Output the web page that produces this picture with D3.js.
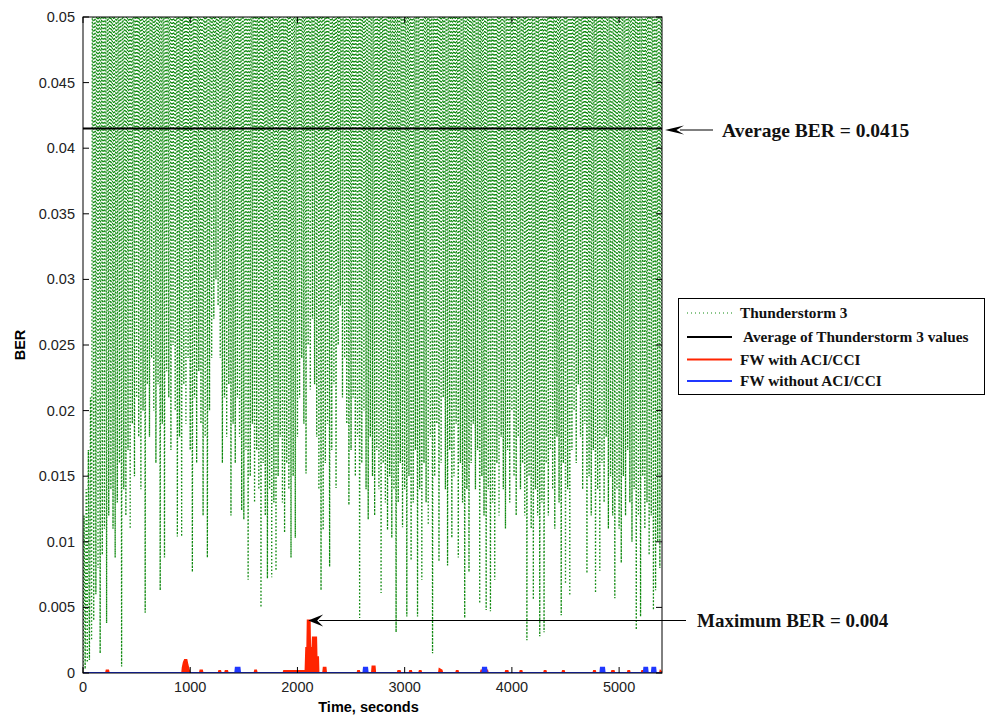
<!DOCTYPE html>
<html>
<head>
<meta charset="utf-8">
<script src="https://cdn.jsdelivr.net/npm/d3@7"></script>
<style>
  body { margin: 0; background: #fff; }
  svg { display: block; }
  .tick-label { font-family: "Liberation Sans", Arial, sans-serif; font-size: 14.5px; fill: #222; }
  .axis-title { font-family: "Liberation Sans", Arial, sans-serif; font-size: 14.5px; font-weight: bold; fill: #000; }
  .serif { font-family: "Liberation Serif", "Times New Roman", serif; font-weight: bold; fill: #111; }
</style>
</head>
<body>
<div id="chart"></div>
<script>
// frame
let FRAME_WIDTH = 987;
let FRAME_HEIGHT = 719;
let MARGINS = {left: 83, right: 325, top: 17, bottom: 46};
let PLOT_WIDTH = FRAME_WIDTH - MARGINS.left - MARGINS.right;
let PLOT_HEIGHT = FRAME_HEIGHT - MARGINS.top - MARGINS.bottom;

// tick values
const X_TICKS = [0, 1000, 2000, 3000, 4000, 5000];
const Y_TICKS = [0, 0.005, 0.01, 0.015, 0.02, 0.025, 0.03, 0.035, 0.04, 0.045, 0.05];

// Thunderstorm 3: one trough every 20 s, read from the lower edge of the green trace
const STORM_STEP = 20;
const stormTroughs = [
  0, 0.0003, 0.0008, 0.001, 0.0025, 0.004, 0.006, 0.008, 0.0015, 0.009,
  0.011, 0.0038, 0.012, 0.014, 0.011, 0.0088, 0.013, 0.016, 0.0005, 0.014,
  0.012, 0.017, 0.011, 0.019, 0.015, 0.021, 0.018, 0.014, 0.02, 0.0046,
  0.022, 0.018, 0.024, 0.02, 0.016, 0.022, 0.0063, 0.019, 0.0088, 0.023,
  0.021, 0.017, 0.025, 0.02, 0.0104, 0.018, 0.0104, 0.022, 0.019, 0.024,
  0.017, 0.0077, 0.021, 0.016, 0.023, 0.019, 0.012, 0.018, 0.0088, 0.02,
  0.024, 0.027, 0.03, 0.028, 0.024, 0.016, 0.021, 0.018, 0.022, 0.012,
  0.019, 0.016, 0.021, 0.018, 0.0124, 0.0117, 0.017, 0.0071, 0.015, 0.019,
  0.013, 0.017, 0.014, 0.005, 0.016, 0.012, 0.0072, 0.014, 0.0073, 0.013,
  0.0078, 0.015, 0.018, 0.013, 0.0107, 0.016, 0.014, 0.0088, 0.015, 0.0103,
  0.018, 0.021, 0.024, 0.019, 0.0152, 0.025, 0.0216, 0.027, 0.022, 0.018,
  0.014, 0.0063, 0.0109, 0.016, 0.019, 0.0081, 0.017, 0.022, 0.0141, 0.025,
  0.028, 0.021, 0.024, 0.019, 0.0128, 0.017, 0.021, 0.015, 0.018, 0.0042,
  0.016, 0.02, 0.014, 0.0117, 0.018, 0.015, 0.012, 0.017, 0.014, 0.0061,
  0.016, 0.013, 0.0109, 0.015, 0.0103, 0.014, 0.0031, 0.013, 0.016, 0.0111,
  0.014, 0.0043, 0.015, 0.0086, 0.013, 0.017, 0.0043, 0.014, 0.0071, 0.016,
  0.013, 0.0113, 0.018, 0.0015, 0.015, 0.019, 0.0085, 0.016, 0.021, 0.014,
  0.0082, 0.017, 0.0103, 0.015, 0.019, 0.0088, 0.016, 0.013, 0.0042, 0.014,
  0.0077, 0.016, 0.019, 0.014, 0.017, 0.0053, 0.015, 0.012, 0.0048, 0.014,
  0.0047, 0.013, 0.0071, 0.016, 0.012, 0.018, 0.014, 0.011, 0.017, 0.013,
  0.02, 0.015, 0.012, 0.018, 0.014, 0.016, 0.012, 0.0025, 0.015, 0.011,
  0.0056, 0.014, 0.012, 0.0028, 0.013, 0.0031, 0.016, 0.012, 0.017, 0.014,
  0.011, 0.018, 0.013, 0.0044, 0.016, 0.0068, 0.014, 0.0059, 0.017, 0.02,
  0.016, 0.022, 0.018, 0.014, 0.019, 0.0076, 0.015, 0.012, 0.017, 0.0061,
  0.014, 0.0078, 0.016, 0.013, 0.018, 0.011, 0.015, 0.012, 0.0057, 0.014,
  0.011, 0.0084, 0.015, 0.012, 0.017, 0.013, 0.01, 0.014, 0.0033, 0.012,
  0.0043, 0.015, 0.011, 0.013, 0.009, 0.012, 0.0048, 0.0063, 0.01, 0.008,
  0.011
];
// peaks between troughs: the first few are low, the rest run off the top of the axes
const stormStartPeaks = [0.012, 0.014, 0.017, 0.021];
const STORM_PEAK = 0.075;

const AVERAGE_BER = 0.0415;

// FW with ACI/CCI
const fwAciTime = [0, 215, 220, 235, 240, 925, 930, 940, 950, 965, 975, 985, 995,
  1090, 1095, 1110, 1115, 1265, 1270, 1280, 1285, 1325, 1330, 1345, 1350, 1600, 1605, 1615, 1620,
  1870, 1875, 2065, 2075, 2082, 2092, 2096, 2114, 2118, 2140, 2144, 2174, 2178, 2192, 2196,
  2240, 2245, 2262, 2267, 2560, 2565, 2575, 2580, 2695, 2700, 2720, 2725,
  2935, 2940, 2955, 2960, 3045, 3050, 3060, 3065, 3135, 3140, 3150, 3155, 3320, 3325, 3345, 3350,
  3480, 3485, 3495, 3500, 3710, 3715, 3770, 3775, 3940, 3945, 3960, 3965, 4075, 4080, 4090, 4095,
  4300, 4305, 4315, 4320, 4470, 4475, 4485, 4490, 4760, 4765, 4775, 4780, 4930, 4935, 4950, 4955,
  5080, 5085, 5095, 5100, 5210, 5215, 5225, 5230, 5380, 5385, 5400];
const fwAciBER = [0, 0, 0.0002, 0.0002, 0, 0, 0.0004, 0.0008, 0.001, 0.001, 0.0006, 0.0003, 0,
  0, 0.0002, 0.0002, 0, 0, 0.00015, 0.00015, 0, 0, 0.00015, 0.00015, 0, 0, 0.0002, 0.0002, 0,
  0, 0.00015, 0.00015, 0, 0.0019, 0.0019, 0.004, 0.004, 0.0019, 0.0019, 0.0027, 0.0027, 0.0012, 0.0012, 0,
  0, 0.0004, 0.0004, 0, 0, 0.00015, 0.00015, 0, 0, 0.0005, 0.0005, 0,
  0, 0.00015, 0.00015, 0, 0, 0.00015, 0.00015, 0, 0, 0.00015, 0.00015, 0, 0, 0.0003, 0.0002, 0,
  0, 0.00015, 0.00015, 0, 0, 0.0002, 0.0002, 0, 0, 0.00015, 0.00015, 0, 0, 0.00015, 0.00015, 0,
  0, 0.00015, 0.00015, 0, 0, 0.00015, 0.00015, 0, 0, 0.00015, 0.00015, 0, 0, 0.00015, 0.00015, 0,
  0, 0.00015, 0.00015, 0, 0, 0.00015, 0.00015, 0, 0, 0.00015, 0];

// FW without ACI/CCI
const fwNoAciTime = [0, 1420, 1425, 1460, 1465, 2615, 2620, 2650, 2655, 3725, 3730, 3760, 3765,
  4825, 4830, 4860, 4865, 5230, 5235, 5262, 5267, 5305, 5310, 5337, 5342, 5400];
const fwNoAciBER = [0, 0, 0.0004, 0.0004, 0, 0, 0.0004, 0.0004, 0, 0, 0.0004, 0.0004, 0,
  0, 0.0004, 0.0004, 0, 0, 0.0004, 0.0004, 0, 0, 0.0004, 0.0004, 0, 0];

const legendLabels = ["Thunderstorm 3", " Average of Thunderstorm 3 values", "FW with ACI/CCI", "FW without ACI/CCI"];

const GREEN = "#108a10";
const RED = "#ff2400";
const BLUE = "#2038ff";

// svg
const SVG = d3.select("#chart").append("svg")
  .attr("width", FRAME_WIDTH)
  .attr("height", FRAME_HEIGHT);

const X_SCALE = d3.scaleLinear().domain([0, 5400]).range([MARGINS.left, MARGINS.left + PLOT_WIDTH]);
const Y_SCALE = d3.scaleLinear().domain([0, 0.05]).range([MARGINS.top + PLOT_HEIGHT, MARGINS.top]);

SVG.append("clipPath").attr("id", "plot-clip")
  .append("rect")
  .attr("x", MARGINS.left).attr("y", MARGINS.top)
  .attr("width", PLOT_WIDTH).attr("height", PLOT_HEIGHT);

const PLOT = SVG.append("g").attr("clip-path", "url(#plot-clip)");

// green zigzag from the troughs
let stormPoints = [];
stormTroughs.forEach((v, i) => {
  stormPoints.push([i * STORM_STEP, v]);
  if (i < stormTroughs.length - 1) {
    let peak = i < stormStartPeaks.length ? stormStartPeaks[i] : STORM_PEAK;
    stormPoints.push([i * STORM_STEP + STORM_STEP / 2, peak]);
  }
});

const line = d3.line().x((d) => X_SCALE(d[0])).y((d) => Y_SCALE(d[1]));

PLOT.append("path")
  .datum(stormPoints)
  .attr("d", line)
  .attr("fill", "none")
  .attr("stroke", GREEN)
  .attr("stroke-width", 1.3)
  .attr("stroke-dasharray", "1.5,2");

// average line
PLOT.append("line")
  .attr("x1", X_SCALE(0)).attr("x2", X_SCALE(5400))
  .attr("y1", Y_SCALE(AVERAGE_BER)).attr("y2", Y_SCALE(AVERAGE_BER))
  .attr("stroke", "#000")
  .attr("stroke-width", 2);

// red and blue series (dense data shows as filled)
function drawSeries(times, values, colour) {
  let pts = times.map((t, i) => [t, values[i]]);
  PLOT.append("path")
    .datum(pts)
    .attr("d", d3.area().x((d) => X_SCALE(d[0])).y0(Y_SCALE(0)).y1((d) => Y_SCALE(d[1])))
    .attr("fill", colour);
  PLOT.append("path")
    .datum(pts)
    .attr("d", line)
    .attr("fill", "none")
    .attr("stroke", colour)
    .attr("stroke-width", 2);
}
drawSeries(fwAciTime, fwAciBER, RED);
drawSeries(fwNoAciTime, fwNoAciBER, BLUE);

// axes box with inward ticks
const AX = SVG.append("g");
AX.append("rect")
  .attr("x", MARGINS.left).attr("y", MARGINS.top)
  .attr("width", PLOT_WIDTH).attr("height", PLOT_HEIGHT)
  .attr("fill", "none").attr("stroke", "#000").attr("stroke-width", 1);

const TICK = 6;
X_TICKS.forEach((t) => {
  let x = X_SCALE(t);
  AX.append("line").attr("x1", x).attr("x2", x)
    .attr("y1", Y_SCALE(0)).attr("y2", Y_SCALE(0) - TICK).attr("stroke", "#000");
  AX.append("line").attr("x1", x).attr("x2", x)
    .attr("y1", Y_SCALE(0.05)).attr("y2", Y_SCALE(0.05) + TICK).attr("stroke", "#000");
  AX.append("text").attr("class", "tick-label")
    .attr("x", x).attr("y", Y_SCALE(0) + 19)
    .attr("text-anchor", "middle")
    .text(d3.format("d")(t));
});
Y_TICKS.forEach((v) => {
  let y = Y_SCALE(v);
  AX.append("line").attr("x1", X_SCALE(0)).attr("x2", X_SCALE(0) + TICK)
    .attr("y1", y).attr("y2", y).attr("stroke", "#000");
  AX.append("line").attr("x1", X_SCALE(5400)).attr("x2", X_SCALE(5400) - TICK)
    .attr("y1", y).attr("y2", y).attr("stroke", "#000");
  AX.append("text").attr("class", "tick-label")
    .attr("x", X_SCALE(0) - 8).attr("y", y + 5)
    .attr("text-anchor", "end")
    .text(String(+v.toFixed(3)));
});

// axis titles
SVG.append("text").attr("class", "axis-title")
  .attr("x", (X_SCALE(0) + X_SCALE(5400)) / 2 - 4).attr("y", 712)
  .attr("text-anchor", "middle")
  .text("Time, seconds");
SVG.append("text").attr("class", "axis-title")
  .attr("transform", "translate(25," + (MARGINS.top + PLOT_HEIGHT / 2) + ") rotate(-90)")
  .attr("text-anchor", "middle")
  .text("BER");

// annotation arrows
function arrow(xTip, y, xEnd, headLen, headHalf) {
  SVG.append("line")
    .attr("x1", xTip + headLen - 4).attr("x2", xEnd)
    .attr("y1", y).attr("y2", y)
    .attr("stroke", "#000").attr("stroke-width", 1.2);
  SVG.append("path")
    .attr("d", "M" + xTip + "," + y +
      " L" + (xTip + headLen) + "," + (y - headHalf) +
      " L" + (xTip + headLen * 0.6) + "," + y +
      " L" + (xTip + headLen) + "," + (y + headHalf) + " Z")
    .attr("fill", "#000");
}
arrow(X_SCALE(5400) + 3, 130, 713, 19, 4.5);
SVG.append("text").attr("class", "serif")
  .attr("x", 722).attr("y", 137)
  .style("font-size", "19.5px")
  .text("Average BER = " + AVERAGE_BER);

arrow(X_SCALE(2100), Y_SCALE(0.004), 686, 15, 6);
SVG.append("text").attr("class", "serif")
  .attr("x", 697).attr("y", 627)
  .style("font-size", "19px")
  .text("Maximum BER = 0.004");

// legend
const LEG = SVG.append("g");
LEG.append("rect")
  .attr("x", 678.5).attr("y", 298.5)
  .attr("width", 306).attr("height", 96)
  .attr("fill", "#fff").attr("stroke", "#000").attr("stroke-width", 1);

const legendRows = [313, 337, 359.5, 381];
const legendStyles = [
  {stroke: GREEN, width: 1, dash: "1,3"},
  {stroke: "#000", width: 2, dash: null},
  {stroke: RED, width: 2, dash: null},
  {stroke: BLUE, width: 2, dash: null}
];
legendLabels.forEach((label, i) => {
  let y = legendRows[i];
  LEG.append("line")
    .attr("x1", 687).attr("x2", 732)
    .attr("y1", y).attr("y2", y)
    .attr("stroke", legendStyles[i].stroke)
    .attr("stroke-width", legendStyles[i].width)
    .attr("stroke-dasharray", legendStyles[i].dash);
  LEG.append("text").attr("class", "serif")
    .attr("x", 740).attr("y", y + 5)
    .style("font-size", "15.3px")
    .style("white-space", "pre")
    .attr("xml:space", "preserve")
    .text(label);
});
</script>
</body>
</html>
